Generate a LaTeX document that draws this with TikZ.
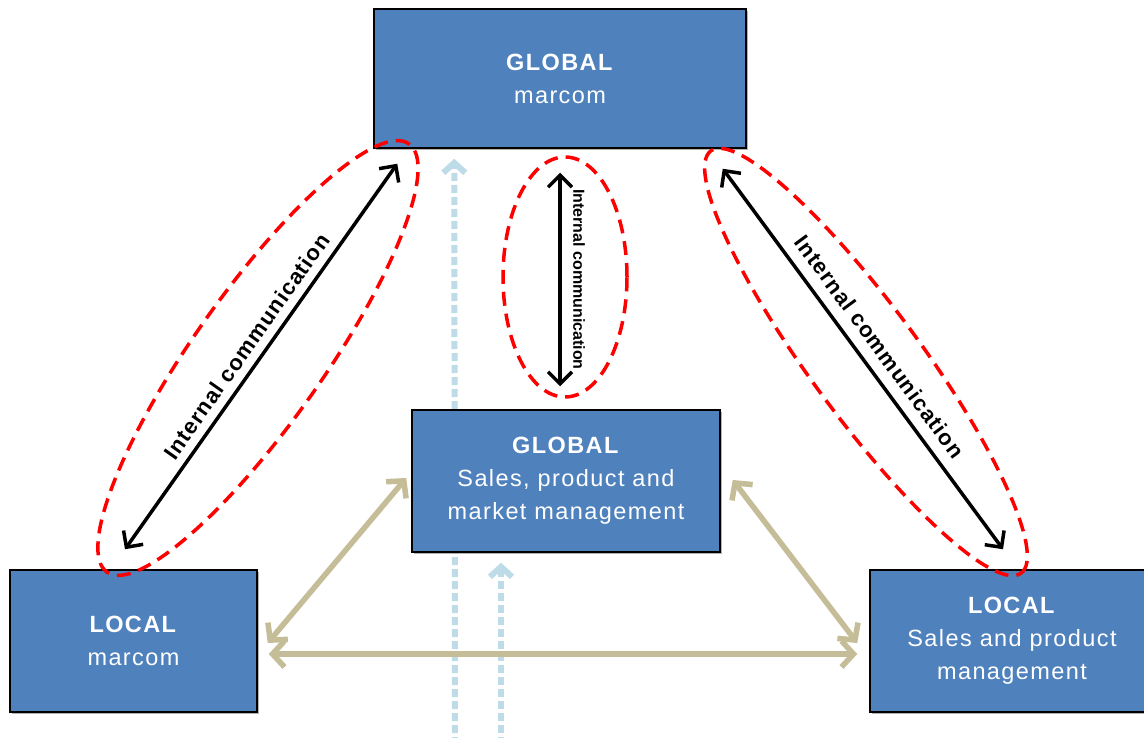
\documentclass[tikz,border=0pt]{standalone}
\usepackage{fontspec}
\setmainfont{Liberation Sans}
\newfontfamily\boxfont{Liberation Sans}[LetterSpace=6]
\newfontfamily\tagfont{Liberation Sans}[LetterSpace=5]
\usetikzlibrary{arrows.meta,calc,shadows}

\definecolor{boxblue}{RGB}{79,129,189}
\definecolor{linktan}{RGB}{196,189,151}
\definecolor{flowblue}{RGB}{190,219,232}
\definecolor{ringred}{RGB}{255,0,0}

\tikzset{
  unitbox/.style={draw=black, line width=1.5pt, fill=boxblue, text=white,
    align=center, inner sep=0pt,
    font=\boxfont\fontsize{23.5}{33}\selectfont,
    drop shadow={shadow xshift=2pt, shadow yshift=-2pt, opacity=0.3, fill=black}},
  comm/.style={line width=3.5pt, black,
    {Straight Barb[length=12pt,width=24pt]}-{Straight Barb[length=12pt,width=24pt]}},
  link/.style={line width=5.5pt, linktan,
    {Straight Barb[length=12pt,width=26pt]}-{Straight Barb[length=12pt,width=26pt]}},
  flow/.style={line width=6pt, flowblue, dash pattern=on 8pt off 4pt,
    -{Straight Barb[length=10pt,width=22pt]}},
  ring/.style={ringred, line width=3.5pt, dash pattern=on 14pt off 8pt},
  tag/.style={inner sep=0pt, font=\tagfont\bfseries\fontsize{22}{26}\selectfont},
  smalltag/.style={inner sep=0pt, font=\bfseries\fontsize{16}{18}\selectfont},
}

\begin{document}
\begin{tikzpicture}[x=1pt, y=-1pt]
  \useasboundingbox (0,0) rectangle (1144,738);
  \fill[white] (0,0) rectangle (1144,738);
  \clip (0,0) rectangle (1144,738);

  % loose ends of the two upward flows at the lower edge
  \coordinate (flowA) at (455,745);
  \coordinate (flowB) at (501,745);

  % the four units
  \node[unitbox, minimum width=372pt, minimum height=139pt] (gm) at (560,78.5)
    {\textbf{GLOBAL}\\marcom};
  \node[unitbox, minimum width=247pt, minimum height=142pt] (lm) at (133.5,641)
    {\textbf{LOCAL}\\marcom};
  \node[unitbox, minimum width=284pt, minimum height=142pt] (rs) at (1012,641)
    {\textbf{LOCAL}\\Sales and product\\management};

  % upward flows (drawn before the middle unit, which covers one of them)
  \draw[flow] (flowA) -- ($(gm.south west)+(81,10)$);

  \node[unitbox, minimum width=308pt, minimum height=142pt] (gs) at (566,481)
    {\textbf{GLOBAL}\\Sales, product and\\market management};

  \draw[flow] (flowB) -- ($(gs.south)+(-65,10)$);

  % links between the units
  \draw[link] ($(lm.east)+(10,2)$) -- ($(gs.west)+(-5,-3)$);
  \draw[link] ($(lm.east)+(11,13)$) -- ($(rs.west)+(-12,13)$);
  \draw[link] ($(gs.east)+(12,-1)$) -- ($(rs.west)+(-12,2)$);

  % end points of the internal communication arrows
  \coordinate (lT) at ($(gm.south west)+(24,15)$);
  \coordinate (lB) at ($(lm.north)+(-8.5,-20)$);
  \coordinate (rT) at ($(gm.south east)+(-24,20)$);
  \coordinate (rB) at ($(rs.north)+(-9,-20)$);
  \coordinate (mT) at ($(gm.south)+(0,24)$);
  \coordinate (mB) at ($(gs.north)+(-6,-23)$);

  % dashed rings round the internal communication
  \coordinate (cL) at (258,358);
  \coordinate (cM) at (565,277);
  \coordinate (cR) at (866,362);
  \draw[ring, rotate around={54.8:(cL)}] (cL) ellipse [x radius=262pt, y radius=65pt];
  \draw[ring] (cM) ellipse [x radius=62pt, y radius=120pt];
  \draw[ring, rotate around={-53.7:(cR)}] (cR) ellipse [x radius=262pt, y radius=55pt];

  % internal communication arrows with their labels
  \draw[comm] (lB) -- node[tag, sloped, above=8pt] (tagL) {Internal communication} (lT);
  \draw[comm] (rT) -- node[tag, sloped, above=11pt] (tagR) {Internal communication} (rB);
  \draw[comm] (mT) -- (mB);
  \node[smalltag, rotate=-90, anchor=south] (tagM) at ($(mT)!0.5!(mB)+(13,0)$)
    {Internal communication};
\end{tikzpicture}
\end{document}
